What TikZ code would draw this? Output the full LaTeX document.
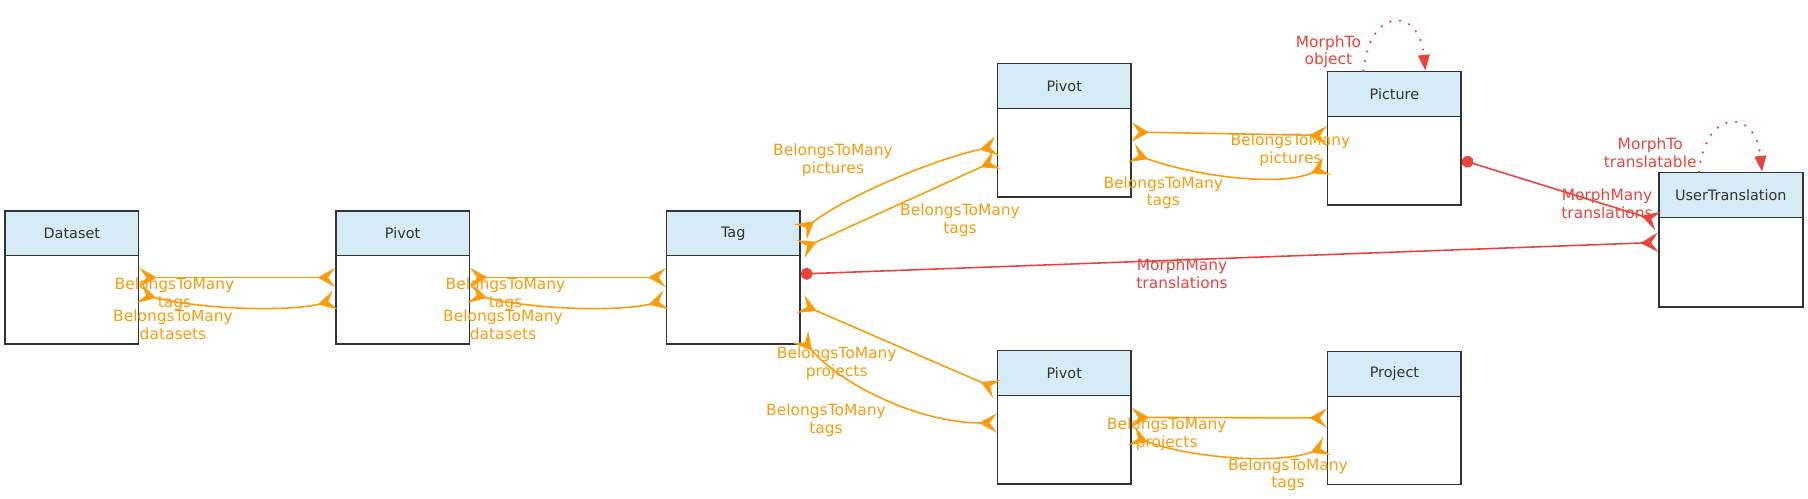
\documentclass[tikz,border=0pt]{standalone}
\usepackage{fontspec}
\setmainfont{DejaVu Sans}
\usetikzlibrary{arrows.meta, positioning, calc}
\definecolor{hdblue}{HTML}{D5EBF5}
\definecolor{boxgray}{HTML}{333333}
\definecolor{relorange}{HTML}{F99B0B}
\definecolor{morphred}{HTML}{E9443B}

\tikzset{
  crowtip/.tip={Stealth[reversed, length=10pt, width=11pt, inset=4pt]},
  entity/.style={draw=boxgray, line width=0.85pt, minimum width=2.67cm,
    minimum height=2.67cm, inner sep=0pt},
  entityhead/.style={draw=boxgray, line width=0.85pt, fill=hdblue,
    minimum width=2.67cm, minimum height=0.9cm, inner sep=0pt, anchor=north,
    text=boxgray, font=\fontsize{8.2}{10}\selectfont},
  belongs/.style={relorange, line width=0.9pt, crowtip-crowtip},
  morphmany/.style={morphred, line width=0.9pt, {Circle[length=6.8pt]}-crowtip},
  morphto/.style={morphred, line width=1.4pt, dash pattern=on 0pt off 5.6pt,
    line cap=round, -{Triangle[length=9pt, width=6.5pt]}},
  rellabel/.style={align=center, inner sep=0pt, font=\fontsize{8.8}{10}\selectfont},
}

\begin{document}
\begin{tikzpicture}[x=0.02cm, y=-0.02cm]

\useasboundingbox (0,0) rectangle (1808,499);

% === Entities ===
\node[entity] (dataset)   at (71.85,277.5)  {};
\node[entity] (pivota)    at (402.6,277.5)  {};
\node[entity] (tag)       at (733.2,277.5)  {};
\node[entity] (pivotpic)  at (1064.2,130.4) {};
\node[entity] (pivotproj) at (1064.2,417.4) {};
\node[entity] (picture)   at (1394.4,138.2) {};
\node[entity] (project)   at (1394.4,418)   {};
\node[entity, minimum width=2.88cm, minimum height=2.69cm] (usertrans) at (1730.8,239.7) {};

% headers
\node[entityhead] (dataset-h)   at (dataset.north)   {Dataset};
\node[entityhead] (pivota-h)    at (pivota.north)    {Pivot};
\node[entityhead] (tag-h)       at (tag.north)       {Tag};
\node[entityhead] (pivotpic-h)  at (pivotpic.north)  {Pivot};
\node[entityhead] (pivotproj-h) at (pivotproj.north) {Pivot};
\node[entityhead] (picture-h)   at (picture.north)   {Picture};
\node[entityhead] (project-h)   at (project.north)   {Project};
\node[entityhead, minimum width=2.88cm] (usertrans-h) at (usertrans.north) {UserTranslation};

% === BelongsToMany (orange) ===
\draw[belongs] (dataset.east) -- (pivota.west);
\draw[belongs] ($(dataset.east)+(0,16)$) .. controls +(61,16) and +(-46,12) .. ($(pivota.west)+(0,22.5)$);
\draw[belongs] (pivota.east) -- (tag.west);
\draw[belongs] ($(pivota.east)+(0,16)$) .. controls +(61,16) and +(-46,12) .. ($(tag.west)+(0,22.5)$);

\draw[belongs] ($(tag.east)+(0,-45.5)$) .. controls +(40,-32) and +(-67,14) .. ($(pivotpic.west)+(0,15.6)$);
\draw[belongs] ($(tag.east)+(0,-28.5)$) -- ($(pivotpic.west)+(0,29.6)$);
\draw[belongs] ($(tag.east)+(0,26.5)$) -- ($(pivotproj.west)+(0,-28.4)$);
\draw[belongs] ($(tag.east)+(0,59.5)$) .. controls +(40,48) and +(-77,0) .. ($(pivotproj.west)+(0,5.6)$);

\draw[belongs] ($(pivotpic.east)+(0,1.6)$) -- ($(picture.west)+(0,-2.7)$);
\draw[belongs] ($(pivotpic.east)+(0,22.6)$) .. controls +(59,22) and +(-48,22) .. ($(picture.west)+(0,27.8)$);
\draw[belongs] (pivotproj.east) -- (project.west);
\draw[belongs] ($(pivotproj.east)+(0,18.6)$) .. controls +(59,22) and +(-48,19) .. ($(project.west)+(0,28)$);

% === Morph relations (red) ===
\draw[morphmany] ($(tag.east)+(0,-3.5)$) -- ($(usertrans.west)+(0,2.7)$);
\draw[morphmany] ($(picture.east)+(0,21.8)$) -- ($(usertrans.west)+(0,-18.7)$);
\draw[morphto] ($(picture.north)+(-31,0)$) .. controls +(6.5,-64.5) and +(-6.5,-64.5) .. ($(picture.north)+(31,0)$);
\draw[morphto] ($(usertrans.north)+(-31.8,0)$) .. controls +(6.5,-64) and +(-6.5,-64) .. ($(usertrans.north)+(31.2,0)$);

% === Labels ===
\node[rellabel, text=relorange] (l-dp-tags)     at (174.5,294.5)  {BelongsToMany\\tags};
\node[rellabel, text=relorange] (l-dp-datasets) at (173,324.5)    {BelongsToMany\\datasets};
\node[rellabel, text=relorange] (l-pt-tags)     at (505.5,294.5)  {BelongsToMany\\tags};
\node[rellabel, text=relorange] (l-pt-datasets) at (503,324.5)    {BelongsToMany\\datasets};
\node[rellabel, text=relorange] (l-tp-pictures) at (833,160.3)    {BelongsToMany\\pictures};
\node[rellabel, text=relorange] (l-tp-tags)     at (960,220)      {BelongsToMany\\tags};
\node[rellabel, text=relorange] (l-tq-projects) at (836.7,363.4)  {BelongsToMany\\projects};
\node[rellabel, text=relorange] (l-tq-tags)     at (826,420.5)    {BelongsToMany\\tags};
\node[rellabel, text=relorange] (l-pc-pictures) at (1290.5,150.3) {BelongsToMany\\pictures};
\node[rellabel, text=relorange] (l-pc-tags)     at (1163.3,192.8) {BelongsToMany\\tags};
\node[rellabel, text=relorange] (l-pj-projects) at (1166.7,434)   {BelongsToMany\\projects};
\node[rellabel, text=relorange] (l-pj-tags)     at (1288,474.7)   {BelongsToMany\\tags};

\node[rellabel, text=morphred] (l-tag-trans)  at (1182,273.6)  {MorphMany\\translations};
\node[rellabel, text=morphred] (l-pic-trans)  at (1607,204)    {MorphMany\\translations};
\node[rellabel, text=morphred] (l-pic-object) at (1328.4,51.8) {MorphTo\\object};
\node[rellabel, text=morphred] (l-ut-morph)   at (1650.2,153)  {MorphTo\\translatable};

\end{tikzpicture}
\end{document}
